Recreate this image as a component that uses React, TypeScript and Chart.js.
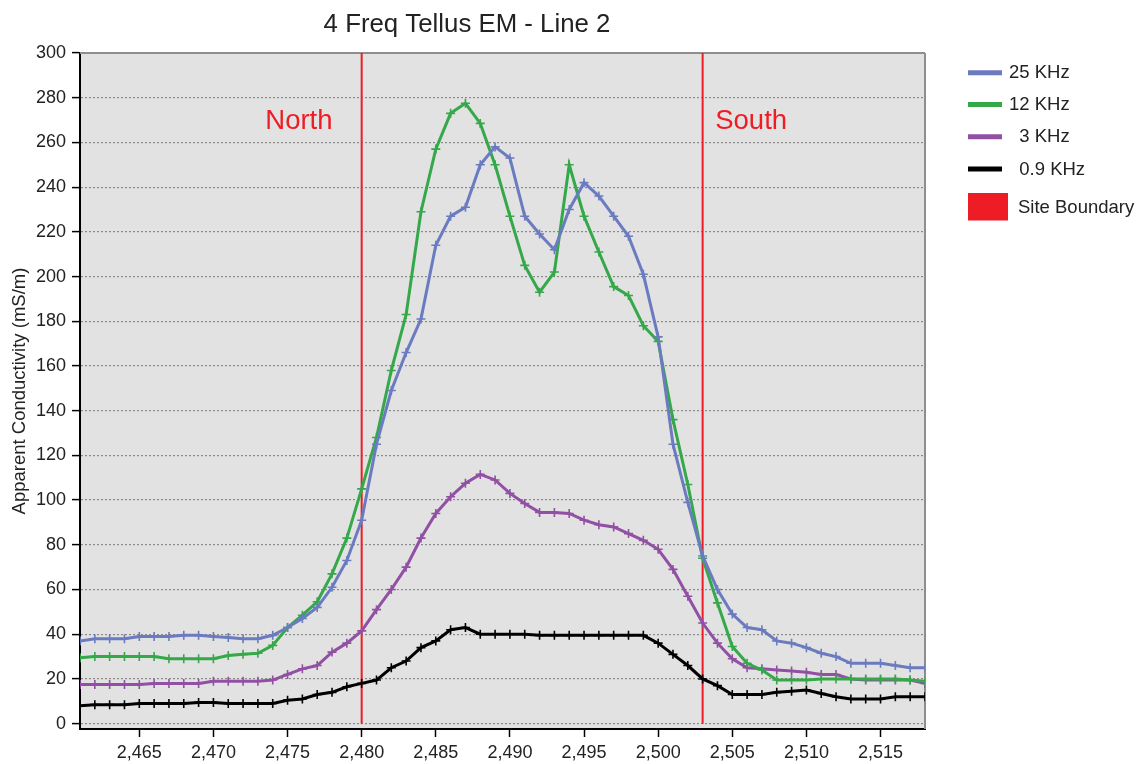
import React, { useEffect, useRef } from "react";
import { Chart, registerables } from "chart.js";

Chart.register(...registerables);

const positions = [
  2461, 2462, 2463, 2464, 2465, 2466, 2467, 2468, 2469, 2470,
  2471, 2472, 2473, 2474, 2475, 2476, 2477, 2478, 2479, 2480,
  2481, 2482, 2483, 2484, 2485, 2486, 2487, 2488, 2489, 2490,
  2491, 2492, 2493, 2494, 2495, 2496, 2497, 2498, 2499, 2500,
  2501, 2502, 2503, 2504, 2505, 2506, 2507, 2508, 2509, 2510,
  2511, 2512, 2513, 2514, 2515, 2516, 2517, 2518,
];

const khz25 = [
  37, 38, 38, 38, 39, 39, 39, 39.5, 39.5, 39,
  38.5, 38, 38, 39.5, 43, 47, 52, 61, 73, 91,
  125, 149, 166, 181, 214, 227, 231, 250, 258, 253,
  227, 219, 212, 230, 242, 236, 227, 218, 201, 173,
  125, 99, 75, 60, 49, 43, 42, 37, 36, 34,
  31.5, 30, 27, 27, 27, 26, 25, 25,
];

const khz12 = [
  29.5, 30, 30, 30, 30, 30, 29, 29, 29, 29,
  30.5, 31, 31.5, 35, 43, 48.5, 54.5, 67, 83, 105,
  128, 158, 183, 229, 257, 273, 277.5, 268.5, 250, 227,
  205, 193, 202, 250, 227, 211, 195.5, 191.5, 178, 171,
  136, 107, 74, 54, 34.5, 27, 24, 19.5, 19.5, 19.5,
  20, 20, 20, 20, 20, 20, 19.5, 19,
];

const khz3 = [
  17.5, 17.5, 17.5, 17.5, 17.5, 18, 18, 18, 18, 19,
  19, 19, 19, 19.5, 22, 24.5, 26, 32, 36, 41.5,
  51, 60, 70, 83, 94, 101.5, 107.5, 111.5, 109, 103,
  98.5, 94.5, 94.5, 94, 91, 89, 88, 85, 82, 78,
  69, 57, 45, 36, 29, 25, 24.5, 24, 23.5, 23,
  22, 22, 20, 19.5, 19.5, 19.5, 19.5, 18,
];

const khz09 = [
  8, 8.5, 8.5, 8.5, 9, 9, 9, 9, 9.5, 9.5,
  9, 9, 9, 9, 10.5, 11, 13, 14, 16.5, 18,
  19.5, 25, 28, 34, 37, 42, 43, 40, 40, 40,
  40, 39.5, 39.5, 39.5, 39.5, 39.5, 39.5, 39.5, 39.5, 36,
  31, 26, 20, 17, 13, 13, 13, 14, 14.5, 15,
  13.5, 12, 11, 11, 11, 12, 12, 12,
];

const seriesLabels = ["25 KHz", "12 KHz", "  3 KHz", "  0.9 KHz"];
const seriesColors = ["#6b7bc0", "#35a84a", "#9150a3", "#000000"];
const boundaryLabel = "Site Boundary";
const boundaryColor = "#ee1d25";
const boundaryPositions = [2480, 2503];
const boundaryRange = [0, 300];
const zoneLabels = ["North", "South"];
const zoneLabelPositions = [2473.5, 2503.85];
const zoneLabelLevel = 266;
const xTickValues = [2465, 2470, 2475, 2480, 2485, 2490, 2495, 2500, 2505, 2510, 2515];
const yTickValues = [0, 20, 40, 60, 80, 100, 120, 140, 160, 180, 200, 220, 240, 260, 280, 300];
const chartTitle = "4 Freq Tellus EM - Line 2";
const yAxisTitle = "Apparent Conductivity (mS/m)";

const FONT = "'Liberation Sans', Arial, Helvetica, sans-serif";

export default function App() {
  const canvasRef = useRef<HTMLCanvasElement | null>(null);

  useEffect(() => {
    const canvas = canvasRef.current;
    if (!canvas) return;

    const seriesValues = [khz25, khz12, khz3, khz09];
    const datasets: any[] = seriesValues.map((vals, i) => ({
      label: seriesLabels[i],
      data: positions.map((x, j) => ({ x, y: vals[j] })),
      borderColor: seriesColors[i],
      backgroundColor: seriesColors[i],
      borderWidth: 3,
      pointStyle: "cross",
      pointRadius: 4.5,
      pointBorderWidth: 1.6,
      pointBorderColor: seriesColors[i],
      tension: 0,
      fill: false,
    }));

    const boundaryData: any[] = [];
    boundaryPositions.forEach((bx, i) => {
      if (i > 0) boundaryData.push({ x: (boundaryPositions[i - 1] + bx) / 2, y: null });
      boundaryData.push({ x: bx, y: boundaryRange[0] });
      boundaryData.push({ x: bx, y: boundaryRange[1] });
    });
    datasets.push({
      label: boundaryLabel,
      data: boundaryData,
      borderColor: boundaryColor,
      backgroundColor: boundaryColor,
      borderWidth: 2,
      pointRadius: 0,
      spanGaps: false,
      fill: false,
      isBoundary: true,
    });

    const decorPlugin = {
      id: "decor",
      beforeDraw(chart: any) {
        const { ctx, chartArea } = chart;
        ctx.save();
        ctx.fillStyle = "#ffffff";
        ctx.fillRect(0, 0, chart.width, chart.height);
        ctx.fillStyle = "#e2e2e2";
        ctx.fillRect(chartArea.left, chartArea.top, chartArea.right - chartArea.left, chartArea.bottom - chartArea.top);
        ctx.restore();
      },
      beforeDatasetsDraw(chart: any) {
        const { ctx, chartArea } = chart;
        ctx.save();
        ctx.strokeStyle = "#8e8e8e";
        ctx.lineWidth = 2;
        ctx.beginPath();
        ctx.moveTo(chartArea.left, chartArea.top);
        ctx.lineTo(chartArea.right, chartArea.top);
        ctx.moveTo(chartArea.right, chartArea.top);
        ctx.lineTo(chartArea.right, chartArea.bottom);
        ctx.stroke();
        ctx.restore();
      },
      afterDraw(chart: any) {
        const { ctx } = chart;
        const xs = chart.scales.x;
        const ys = chart.scales.y;
        ctx.save();
        // title
        ctx.fillStyle = "#222";
        ctx.font = `25.8px ${FONT}`;
        ctx.textAlign = "center";
        ctx.textBaseline = "alphabetic";
        ctx.fillText(chartTitle, 467, 32);

        // zone labels
        ctx.fillStyle = boundaryColor;
        ctx.font = `27.5px ${FONT}`;
        ctx.textAlign = "left";
        zoneLabels.forEach((t, i) => {
          ctx.fillText(t, xs.getPixelForValue(zoneLabelPositions[i]), ys.getPixelForValue(zoneLabelLevel));
        });

        // legend
        const lx = 968;
        const rowY = [72.7, 104.5, 136.8, 169];
        ctx.font = `18.5px ${FONT}`;
        ctx.textBaseline = "middle";
        chart.data.datasets.forEach((ds: any, i: number) => {
          if (ds.isBoundary) {
            ctx.fillStyle = ds.backgroundColor;
            ctx.fillRect(lx, 193, 40, 27.5);
            ctx.fillStyle = "#222";
            ctx.fillText(ds.label, 1018, 207.5);
          } else {
            const y = rowY[i];
            ctx.strokeStyle = ds.borderColor;
            ctx.lineWidth = 5;
            ctx.beginPath();
            ctx.moveTo(lx, y);
            ctx.lineTo(lx + 34, y);
            ctx.stroke();
            ctx.fillStyle = "#222";
            ctx.fillText(ds.label, 1009, y + 0.5);
          }
        });
        ctx.restore();
      },
    };

    const chart = new Chart(canvas, {
      type: "line",
      data: { datasets },
      plugins: [decorPlugin],
      options: {
        animation: false,
        responsive: false,
        devicePixelRatio: 1,
        layout: { padding: { left: 0, right: 214, top: 53, bottom: 0 } },
        plugins: {
          legend: { display: false },
          title: { display: false },
          tooltip: { enabled: false },
        },
        scales: {
          x: {
            type: "linear",
            min: 2461,
            max: 2518,
            afterBuildTicks: (scale: any) => {
              scale.ticks = xTickValues.map((v) => ({ value: v }));
            },
            afterFit: (scale: any) => {
              scale.height = 35;
            },
            grid: {
              display: true,
              drawOnChartArea: false,
              drawTicks: true,
              tickLength: 8,
              tickColor: "#000",
              tickWidth: 1.5,
            },
            border: { display: true, color: "#000", width: 2 },
            ticks: {
              font: { family: FONT, size: 18 },
              color: "#222",
              padding: 5,
              maxRotation: 0,
              autoSkip: false,
              callback: (v: any) => Number(v).toLocaleString("en-US"),
            },
          },
          y: {
            type: "linear",
            min: -2.4,
            max: 300,
            afterBuildTicks: (scale: any) => {
              scale.ticks = yTickValues.map((v) => ({ value: v }));
            },
            afterFit: (scale: any) => {
              scale.width = 80;
            },
            grid: {
              display: true,
              drawOnChartArea: true,
              drawTicks: true,
              color: "#8a8a8a",
              lineWidth: 1.2,
              tickLength: 8,
              tickColor: "#000",
              tickWidth: 1.5,
            },
            border: { display: true, color: "#000", width: 2, dash: [2, 2] },
            ticks: {
              font: { family: FONT, size: 18 },
              color: "#222",
              padding: 6,
              autoSkip: false,
            },
            title: {
              display: true,
              text: yAxisTitle,
              font: { family: FONT, size: 18.5 },
              color: "#222",
              padding: { top: 9, bottom: 0 },
            },
          },
        },
      } as any,
    });

    return () => {
      chart.destroy();
    };
  }, []);

  return (
    <div style={{ position: "fixed", left: 0, top: 0, width: 1139, height: 764, background: "#fff" }}>
      <canvas ref={canvasRef} width={1139} height={764} style={{ display: "block", width: 1139, height: 764 }} />
    </div>
  );
}
